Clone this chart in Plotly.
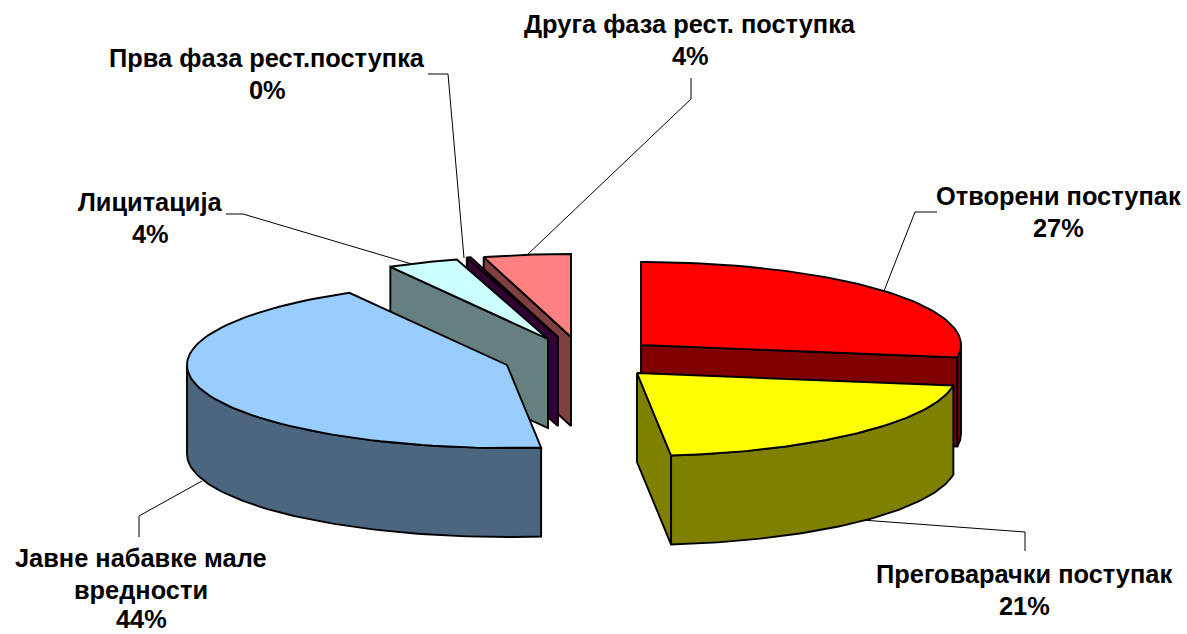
import math
import plotly.graph_objects as go

# --- data ---
names = ["Отворени поступак", "Преговарачки поступак", "Јавне набавке мале вредности",
         "Лицитација", "Прва фаза рест.поступка", "Друга фаза рест. поступка"]
values = [27.4, 20.9, 43.5, 3.6, 0.2, 4.4]
top_colors = ["#FF0000", "#FFFF00", "#99CCFF", "#CCFFFF", "#660066", "#FF8080"]
side_colors = ["#800000", "#808000", "#4D6680", "#668080", "#330033", "#804040"]

# --- projection / layout (exploded 3-D pie) ---
W, H = 1187, 634
RX, RY, DEPTH = 320, 83, 89
centers = [(641, 345), (637, 373), (507, 365), (548, 339), (558, 337), (571, 337)]
draw_order = [5, 4, 3, 2, 0, 1]
LW = 1.9

# label lines: (text, x, y)
label_lines = [
    [("Отворени поступак", 1058, 196), ("27%", 1058, 228)],
    [("Преговарачки поступак", 1024, 574), ("21%", 1024, 606)],
    [("Јавне набавке мале", 141, 558), ("вредности", 141, 590), ("44%", 141, 619)],
    [("Лицитација", 150, 202), ("4%", 150, 234)],
    [("Прва фаза рест.поступка", 267, 58), ("0%", 267, 90)],
    [("Друга фаза рест. поступка", 690, 24), ("4%", 690, 56)],
]
leaders = [
    ([937, 212, 915, 212, 884, 291]),
    ([1025, 551, 1025, 532, 862, 520]),
    ([139, 537, 139, 516, 202, 481]),
    ([226, 214, 243, 214, 415, 265]),
    ([428, 74, 448, 74, 464, 258]),
    ([691, 78, 691, 99, 527, 255]),
]


def pt(c, frac, dz=0):
    a = frac * 2 * math.pi
    return c[0] + RX * math.sin(a), c[1] - RY * math.cos(a) + dz


def arc(c, f0, f1, dz=0, n=80):
    return [pt(c, f0 + (f1 - f0) * i / n, dz) for i in range(n + 1)]


def poly(points, fill, name):
    xs = [p[0] for p in points] + [points[0][0]]
    ys = [p[1] for p in points] + [points[0][1]]
    return go.Scatter(x=xs, y=ys, mode="lines", fill="toself", fillcolor=fill,
                      line=dict(color="black", width=LW), hoverinfo="skip",
                      showlegend=False, name=name)


fig = go.Figure()
for i, lead in enumerate(leaders):
    fig.add_trace(go.Scatter(x=lead[0::2], y=lead[1::2], mode="lines",
                             line=dict(color="black", width=1), hoverinfo="skip",
                             showlegend=False))

total = sum(values)
bounds = [0.0]
for v in values:
    bounds.append(bounds[-1] + v / total)

for i in draw_order:
    c, f0, f1 = centers[i], bounds[i], bounds[i + 1]
    mid = pt(c, (f0 + f1) / 2)
    # radial walls: visible when the slice's interior lies above the edge on screen
    for f in (f0, f1):
        ex, ey = pt(c, f)
        dx, dy = ex - c[0], ey - c[1]
        if abs(dx) < 1e-6:
            continue
        line_y = c[1] + dy * (mid[0] - c[0]) / dx
        if mid[1] < line_y:
            fig.add_trace(poly([c, (ex, ey), (ex, ey + DEPTH), (c[0], c[1] + DEPTH)],
                               side_colors[i], names[i]))
    # outer rim wall: front half of the ellipse only
    a0, a1 = max(f0, 0.25), min(f1, 0.75)
    if a1 > a0:
        fig.add_trace(poly(arc(c, a0, a1) + arc(c, a1, a0, DEPTH), side_colors[i], names[i]))
    # top face
    fig.add_trace(poly([c] + arc(c, f0, f1), top_colors[i], names[i]))

annotations = []
for lines in label_lines:
    for text, x, y in lines:
        annotations.append(dict(x=x, y=y, text=f"<b>{text}</b>", showarrow=False,
                                xanchor="center", yanchor="middle",
                                font=dict(family="Liberation Sans", size=25.4, color="black")))

fig.update_layout(
    width=W, height=H, margin=dict(l=0, r=0, t=0, b=0),
    paper_bgcolor="white", plot_bgcolor="white", showlegend=False,
    xaxis=dict(range=[0, W], visible=False, fixedrange=True),
    yaxis=dict(range=[H, 0], visible=False, fixedrange=True),
    annotations=annotations,
)
fig.write_html("out.html", config={"displayModeBar": False},
               post_script="document.body.style.margin='0';")
